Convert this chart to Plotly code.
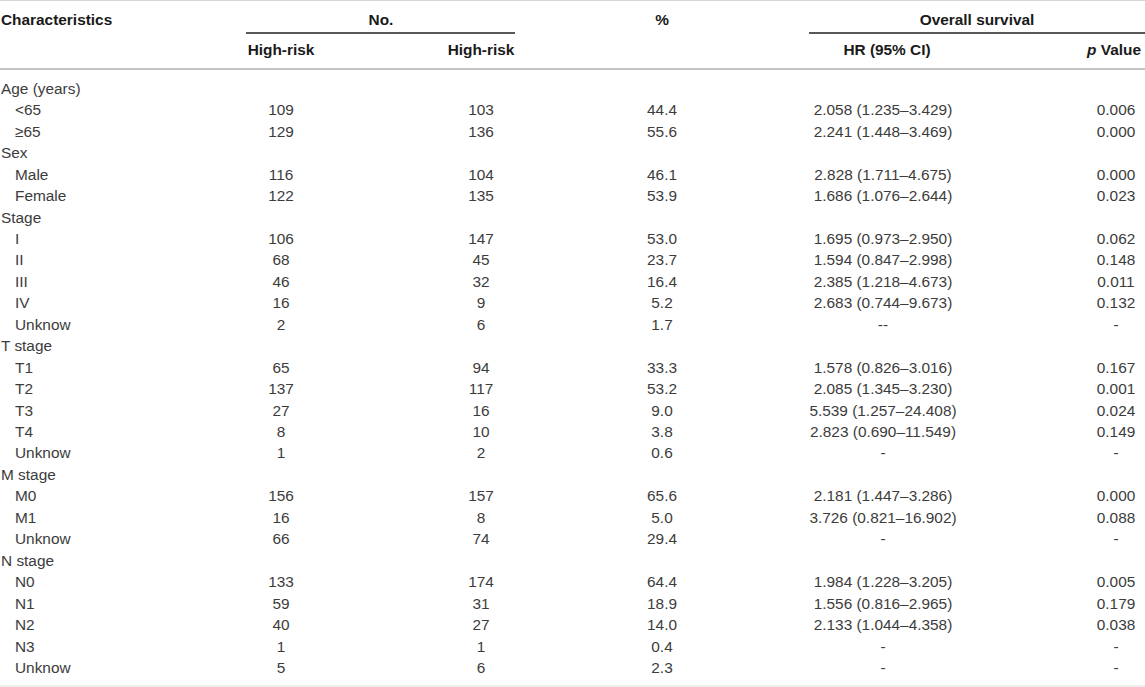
import plotly.graph_objects as go

# 표 데이터 (행 순서대로)
characteristics = [
    "Age (years)", "<65", "≥65",
    "Sex", "Male", "Female",
    "Stage", "I", "II", "III", "IV", "Unknow",
    "T stage", "T1", "T2", "T3", "T4", "Unknow",
    "M stage", "M0", "M1", "Unknow",
    "N stage", "N0", "N1", "N2", "N3", "Unknow",
]
group_rows = ["Age (years)", "Sex", "Stage", "T stage", "M stage", "N stage"]

high_risk_a = ["", "109", "129", "", "116", "122", "", "106", "68", "46", "16", "2",
               "", "65", "137", "27", "8", "1", "", "156", "16", "66",
               "", "133", "59", "40", "1", "5"]
high_risk_b = ["", "103", "136", "", "104", "135", "", "147", "45", "32", "9", "6",
               "", "94", "117", "16", "10", "2", "", "157", "8", "74",
               "", "174", "31", "27", "1", "6"]
percent = ["", "44.4", "55.6", "", "46.1", "53.9", "", "53.0", "23.7", "16.4", "5.2", "1.7",
           "", "33.3", "53.2", "9.0", "3.8", "0.6", "", "65.6", "5.0", "29.4",
           "", "64.4", "18.9", "14.0", "0.4", "2.3"]
hr_ci = ["", "2.058 (1.235–3.429)", "2.241 (1.448–3.469)",
         "", "2.828 (1.711–4.675)", "1.686 (1.076–2.644)",
         "", "1.695 (0.973–2.950)", "1.594 (0.847–2.998)", "2.385 (1.218–4.673)",
         "2.683 (0.744–9.673)", "--",
         "", "1.578 (0.826–3.016)", "2.085 (1.345–3.230)", "5.539 (1.257–24.408)",
         "2.823 (0.690–11.549)", "-",
         "", "2.181 (1.447–3.286)", "3.726 (0.821–16.902)", "-",
         "", "1.984 (1.228–3.205)", "1.556 (0.816–2.965)", "2.133 (1.044–4.358)", "-", "-"]
p_value = ["", "0.006", "0.000", "", "0.000", "0.023", "", "0.062", "0.148", "0.011", "0.132", "-",
           "", "0.167", "0.001", "0.024", "0.149", "-", "", "0.000", "0.088", "-",
           "", "0.005", "0.179", "0.038", "-", "-"]

# 헤더 텍스트
header_top = ["Characteristics", "No.", "%", "Overall survival"]
header_sub = ["High-risk", "High-risk", "HR (95% CI)", "<i>p</i> Value"]

# 레이아웃 (픽셀 기준)
W, H = 1145, 687
ROW0, ROW_H = 90, 21.45
COL_A, COL_B, COL_PCT, COL_HR, COL_P = 281, 481, 662, 883, 1116
FONT = "Liberation Sans, Arial, sans-serif"
TXT = "#3c3c3c"
HEAD = "#1a1a1a"
SIZE = 15.4

rows_y = [ROW0 + i * ROW_H for i in range(len(characteristics))]

fig = go.Figure()


def add_col(x, y, text, pos, color=TXT, bold=False):
    fig.add_trace(go.Scatter(
        x=x, y=y, text=[f"<b>{t}</b>" if bold else t for t in text],
        mode="text", textposition=pos, hoverinfo="skip", showlegend=False,
        cliponaxis=False,
        textfont=dict(family=FONT, size=SIZE, color=color),
    ))


# 특성 열: 그룹은 왼쪽, 하위 항목은 들여쓰기
grp = [(y, t) for y, t in zip(rows_y, characteristics) if t in group_rows]
sub = [(y, t) for y, t in zip(rows_y, characteristics) if t not in group_rows]
add_col([1] * len(grp), [g[0] for g in grp], [g[1] for g in grp], "middle right")
add_col([15] * len(sub), [s[0] for s in sub], [s[1] for s in sub], "middle right")

for col_x, vals in [(COL_A, high_risk_a), (COL_B, high_risk_b), (COL_PCT, percent),
                    (COL_HR, hr_ci), (COL_P, p_value)]:
    add_col([col_x] * len(vals), rows_y, vals, "middle center")

# 헤더
add_col([1], [21], [header_top[0]], "middle right", HEAD, True)
add_col([381, COL_PCT, 977], [21, 21, 21], header_top[1:], "middle center", HEAD, True)
add_col([COL_A, COL_B, 887, 1114], [51] * 4, header_sub, "middle center", HEAD, True)

# 구분선
line_specs = [
    (0, W, 0.5, "#d6d6d6", 1),
    (246, 515, 33, "#222222", 1.5),
    (809, W, 33, "#222222", 1.5),
    (0, W, 69, "#c4c4c4", 2),
    (0, W, 686, "#dcdcdc", 1),
]
for x0, x1, y, c, w in line_specs:
    fig.add_shape(type="line", x0=x0, x1=x1, y0=y, y1=y, xref="x", yref="y",
                  line=dict(color=c, width=w))

fig.update_layout(
    width=W, height=H,
    margin=dict(l=0, r=0, t=0, b=0),
    paper_bgcolor="white", plot_bgcolor="white",
    xaxis=dict(range=[0, W], visible=False, fixedrange=True),
    yaxis=dict(range=[H, 0], visible=False, fixedrange=True),
)

fig.write_html("out.html", post_script="document.body.style.margin='0';",
               config={"displayModeBar": False})
